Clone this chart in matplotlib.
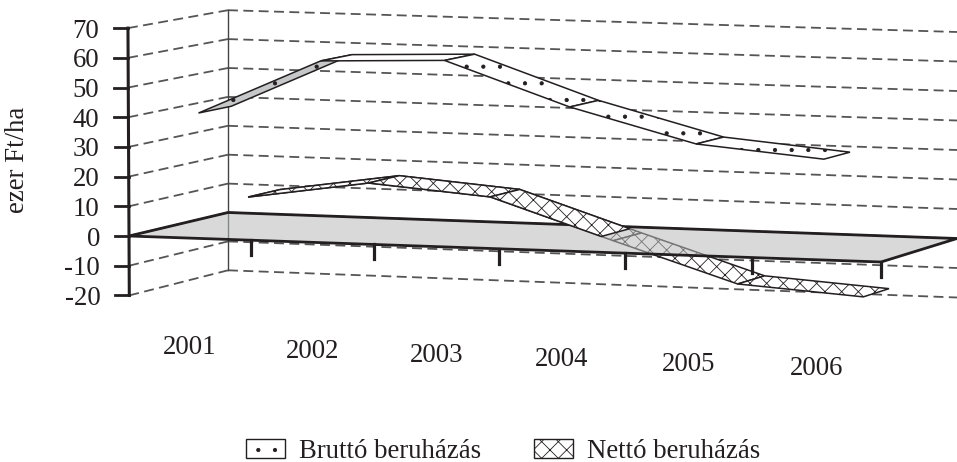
import numpy as np
import matplotlib
matplotlib.use('Agg')
import matplotlib.pyplot as plt
from matplotlib.patches import Polygon, Patch

plt.rcParams['font.family'] = ['Liberation Serif', 'DejaVu Serif']
plt.rcParams['hatch.linewidth'] = 0.6

years = ['2001', '2002', '2003', '2004', '2005', '2006']
brutto = [41.4, 60.2, 61.6, 47.3, 36.3, 32.6]
netto = [9.2, 15.4, 12.1, -1.3, -14.4, -17.2]
y_ticks = [70, 60, 50, 40, 30, 20, 10, 0, -10, -20]

dark = '#231f20'
grid_col = '#555555'
dashes = (0, (5.5, 3))
font_size = 19.3


# oblique view of the 3D box, u along the categories, d into the depth
def project(u, d, v):
    u = np.asarray(u, dtype=float)
    w = u - 0.032 * u * (1 - u)
    x = 129 + 752 * w + d * (99 - 23 * w) - v * 0.0148 * (1 - d) * (1 - w)
    base = 236 + 26 * w - 23.5 * d
    scale = 2.97 - 0.08 * d + 0.06 * w
    return x, base - v * scale


def cat_u(k):
    return (k + 0.5) / len(years)


def ribbon(k, v0, v1, d0, d1, t=1.0):
    # quad between category k and k + t
    vt = v0 + (v1 - v0) * t
    ut = cat_u(k + t)
    pts = [project(cat_u(k), d0, v0), project(ut, d0, vt),
           project(ut, d1, vt), project(cat_u(k), d1, v0)]
    return [(float(a), float(b)) for a, b in pts]


def draw_ribbon(ax, vals, d0, d1, hatch, z, grey_first=False, only_above=False):
    for k in range(len(vals) - 1):
        v0, v1 = vals[k], vals[k + 1]
        t = 1.0
        if only_above:
            if v0 <= 0 and v1 <= 0:
                continue
            if v1 < 0:
                t = v0 / (v0 - v1)
        face = '#c6c7c8' if grey_first and k == 0 else 'white'
        ax.add_patch(Polygon(ribbon(k, v0, v1, d0, d1, t), closed=True, facecolor=face,
                             edgecolor=dark, hatch=hatch, linewidth=1.1, zorder=z))


fig = plt.figure(figsize=(9.57, 4.62), dpi=100)
ax = fig.add_axes([0, 0, 1, 1])
ax.set_xlim(0, 957)
ax.set_ylim(462, 0)
ax.axis('off')

# walls
for v in y_ticks:
    x, y = project(np.array([0, 0]), np.array([0, 1]), v)
    ax.plot(x, y, color=grid_col, lw=1.3, ls=dashes, zorder=1)
    x, y = project(np.array([0, 1]), 1, v)
    ax.plot(x, y, color=grid_col, lw=1.3, ls=dashes, zorder=1)
x, y = project(np.array([0, 0]), 1, np.array([70, -20]))
ax.plot(x, y, color='#444444', lw=1.0, zorder=1)

# ribbons, the part below zero stays under the floor
draw_ribbon(ax, netto, 0.6, 0.93, 'xx', 2)

x, y = project(np.array([0, 0, 1, 1]), np.array([0, 1, 1, 0]), 0)
ax.add_patch(Polygon(np.column_stack([x, y]), closed=True, facecolor='#babbbc', alpha=0.55,
                     edgecolor='none', zorder=3))
ax.add_patch(Polygon(np.column_stack([x, y]), closed=True, fill=False,
                     edgecolor=dark, linewidth=2.0, zorder=3.5))

draw_ribbon(ax, netto, 0.6, 0.93, 'xx', 4, only_above=True)
draw_ribbon(ax, brutto, 0.095, 0.43, '.', 5, grey_first=True)

# value axis
x, y = project(np.array([0, 0]), 0, np.array([70, -20]))
ax.plot(x, y, color=dark, lw=2.2, solid_capstyle='projecting', zorder=6)
for v in y_ticks:
    x0, y0 = project(0, 0, v)
    ax.plot([x0 - 14, x0], [y0, y0], color=dark, lw=2.0, zorder=6)
    ax.text(x0 - 29, y0, str(v), ha='right', va='center_baseline', fontsize=font_size, color=dark)

# category ticks and labels
for k in range(1, len(years) + 1):
    x0, y0 = project(k / len(years), 0, 0)
    ax.plot([x0, x0], [y0, y0 + 15], color=dark, lw=2.3, zorder=6)
for k, lab in enumerate(years):
    x0, y0 = project(cat_u(k), 0, 0)
    ax.text(x0, y0 + 106, lab, ha='center', va='center_baseline', fontsize=font_size, color=dark)

ax.text(18, 160, 'ezer Ft/ha', rotation=90, ha='center', va='center', fontsize=font_size, color=dark)

handles = [Patch(facecolor='white', edgecolor=dark, hatch='.', linewidth=1.0, label='Bruttó beruházás'),
           Patch(facecolor='white', edgecolor=dark, hatch='xx', linewidth=1.0, label='Nettó beruházás')]
leg = ax.legend(handles=handles, ncol=2, loc='center', bbox_to_anchor=(503, 451),
                bbox_transform=ax.transData, frameon=False, fontsize=font_size,
                handlelength=1.45, handleheight=0.72, handletextpad=0.5, columnspacing=2.0,
                labelcolor=dark, borderpad=0)

fig.savefig('out.png', dpi=100)
